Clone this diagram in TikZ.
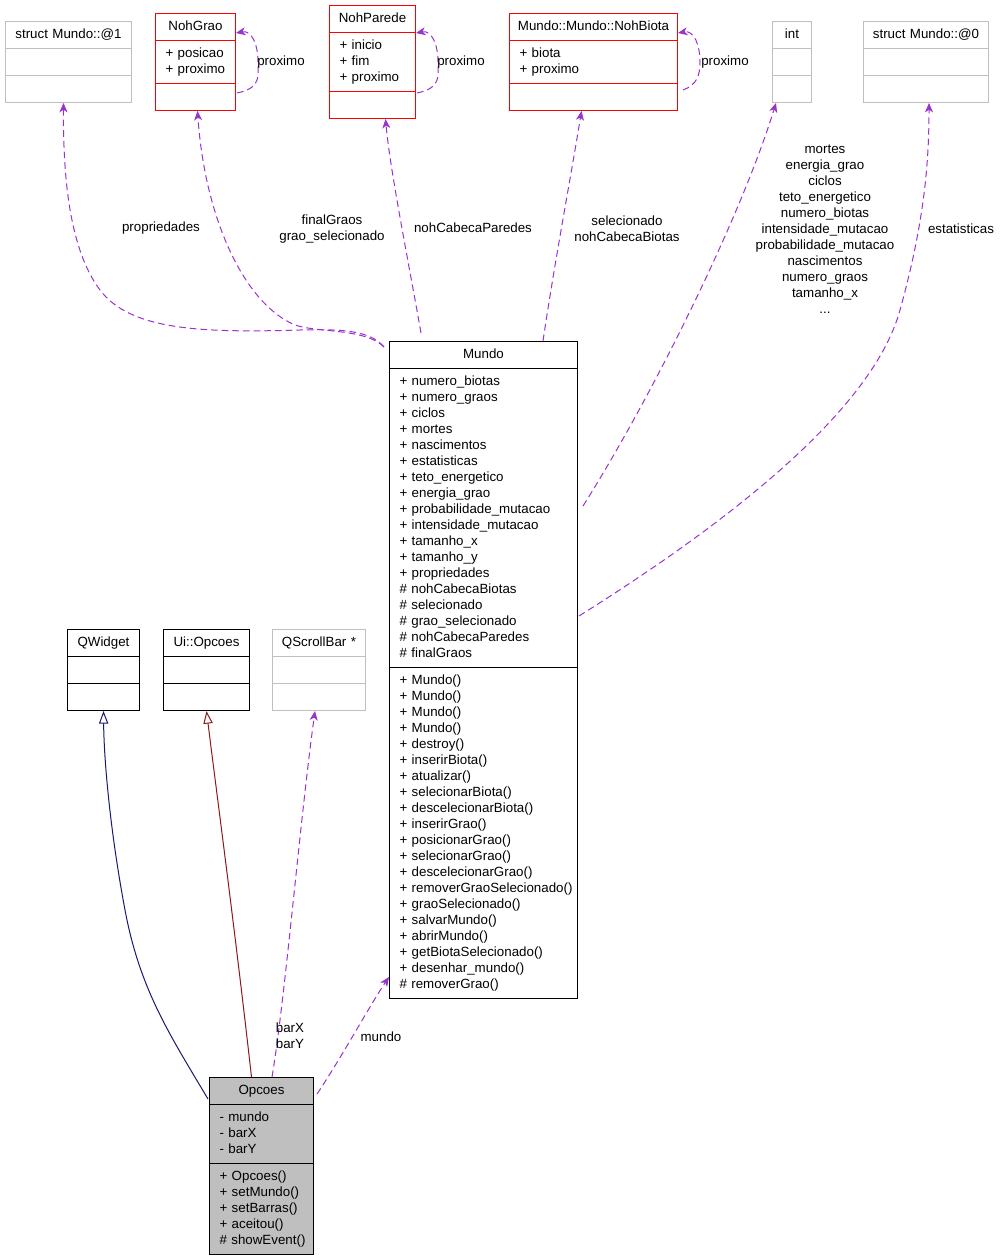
\documentclass[tikz,border=0pt]{standalone}
\usepackage{fontspec}
\setmainfont{Liberation Sans}
\usetikzlibrary{arrows.meta,calc,shapes.multipart}

\definecolor{edgepurple}{HTML}{9A32CD}
\definecolor{inhblue}{HTML}{191970}
\definecolor{inhred}{HTML}{8B1A1A}
\definecolor{boxgray}{HTML}{BFBFBF}
\newcommand{\umlfont}{\fontsize{10pt}{12pt}\selectfont}
\newcommand{\ctitle}[1]{\makebox[\linewidth]{\strut #1}}
% member lists never wrap: lines may run into the right padding
\newcommand{\mlist}{\rightskip=-10pt plus 1fil\hyphenpenalty=10000\relax\strut}

\begin{document}
\begin{tikzpicture}[
  x=0.75pt, y=-0.75pt,
  font=\umlfont,
  cls/.style={rectangle split, rectangle split parts=3, draw=black, line width=0.75pt,
    anchor=north west, inner xsep=7.5pt, inner ysep=3.75pt, align=left,
    /utils/exec={\pgfmathsetlengthmacro\clsw{#1*0.75pt-15pt}}, text width=\clsw},
  ext/.style={cls=#1, draw=boxgray},
  ref/.style={cls=#1, draw=red},
  uses/.style={draw=edgepurple, line width=0.75pt, dash pattern=on 5pt off 3pt,
    -{Stealth[length=7pt,width=6pt,inset=2pt]}},
  inh/.style={line width=0.75pt, -{Triangle[open,length=9.5pt,width=7pt]}},
  lbl/.style={align=center, inner sep=0pt}
]
\useasboundingbox (0,0) rectangle (1001,1259);

% Top row: member types of Mundo.
\node[ext=126] (at1) at (5,21) {\ctitle{struct Mundo::@1}\nodepart{two}\strut\nodepart{three}\strut};
\node[ref=80] (grao) at (155,13) {\ctitle{NohGrao}\nodepart{two}\mlist+ posicao\\+ proximo\strut
  \nodepart{three}\strut};
\node[ref=86] (parede) at (329,5) {\ctitle{NohParede}\nodepart{two}\mlist+ inicio\\+ fim\\+ proximo\strut
  \nodepart{three}\strut};
\node[ref=168] (biota) at (509,13) {\ctitle{Mundo::Mundo::NohBiota}\nodepart{two}\mlist+ biota\\+ proximo\strut
  \nodepart{three}\strut};
\node[ext=39] (int) at (772,21) {\ctitle{int}\nodepart{two}\strut\nodepart{three}\strut};
\node[ext=125] (at0) at (863,21) {\ctitle{struct Mundo::@0}\nodepart{two}\strut\nodepart{three}\strut};

% Mundo.
\node[cls=188] (mundo) at (389,341) {\ctitle{Mundo}\nodepart{two}\mlist
  + numero\_biotas\\+ numero\_graos\\+ ciclos\\+ mortes\\+ nascimentos\\+ estatisticas\\
  + teto\_energetico\\+ energia\_grao\\+ probabilidade\_mutacao\\+ intensidade\_mutacao\\
  + tamanho\_x\\+ tamanho\_y\\+ propriedades\\\# nohCabecaBiotas\\\# selecionado\\
  \# grao\_selecionado\\\# nohCabecaParedes\\\# finalGraos\strut
  \nodepart{three}\mlist
  + Mundo()\\+ Mundo()\\+ Mundo()\\+ Mundo()\\+ destroy()\\+ inserirBiota()\\+ atualizar()\\
  + selecionarBiota()\\+ descelecionarBiota()\\+ inserirGrao()\\+ posicionarGrao()\\
  + selecionarGrao()\\+ descelecionarGrao()\\+ removerGraoSelecionado()\\+ graoSelecionado()\\
  + salvarMundo()\\+ abrirMundo()\\+ getBiotaSelecionado()\\+ desenhar\_mundo()\\\# removerGrao()\strut};

% Bases and members of Opcoes.
\node[cls=72] (qwidget) at (67,629) {\ctitle{QWidget}\nodepart{two}\strut\nodepart{three}\strut};
\node[cls=86] (uiopcoes) at (163,629) {\ctitle{Ui::Opcoes}\nodepart{two}\strut\nodepart{three}\strut};
\node[ext=93] (qscroll) at (272,629) {\ctitle{QScrollBar *}\nodepart{two}\strut\nodepart{three}\strut};
\node[cls=104, fill=boxgray] (opcoes) at (209,1077) {\ctitle{Opcoes}\nodepart{two}\mlist
  - mundo\\- barX\\- barY\strut
  \nodepart{three}\mlist
  + Opcoes()\\+ setMundo()\\+ setBarras()\\+ aceitou()\\\mbox{\# showEvent()}\strut};

% Self references.
\draw[uses] ($(grao.east)+(1,31)$) .. controls (262,88) and (258,75) .. (258,62)
  .. controls (258,45) and (252,30) .. ($(grao.east)+(0,-29)$);
\draw[uses] ($(parede.east)+(1,31)$) .. controls (442,88) and (438,75) .. (438,62)
  .. controls (438,45) and (432,30) .. ($(parede.east)+(0,-29)$);
\draw[uses] ($(biota.east)+(5,28)$) .. controls (697,85) and (700,75) .. (700,62)
  .. controls (700,45) and (694,30) .. ($(biota.east)+(0,-29)$);
\node[lbl] (lgrao) at (281,62) {proximo};
\node[lbl] (lparede) at (461,62) {proximo};
\node[lbl] (lbiota) at (725,62) {proximo};

% Members of Mundo.
\draw[uses] ($(mundo.north west)+(-5,6)$) .. controls (370,330) and (340,329) .. (300,330)
  .. controls (200,333) and (130,330) .. (100,290)
  .. controls (70,250) and (63,180) .. ($(at1.south)+(-5,0)$);
\draw[uses] ($(mundo.north west)+(-5,6)$) .. controls (365,328) and (318,333) .. (295,325)
  .. controls (245,304) and (205,220) .. ($(grao.south)+(2,0)$);
\draw[uses] ($(mundo.north west)+(32,-8)$) .. controls (410,270) and (390,170) .. ($(parede.south)+(13,0)$);
\draw[uses] ($(mundo.north west)+(154,0)$) .. controls (555,260) and (572,170) .. ($(biota.south)+(-12,0)$);
\draw[uses] ($(mundo.north east)+(5,165)$) .. controls (650,400) and (740,220) .. ($(int.south west)+(4,0)$);
\draw[uses] ($(mundo.north east)+(1,275)$) .. controls (700,540) and (870,420) .. (900,310)
  .. controls (925,220) and (929,160) .. ($(at0.south)+(3,0)$);

\node[lbl] (lprop) at (161,228) {propriedades};
\node[lbl] (lgraos) at (332,229) {finalGraos\\grao\_selecionado};
\node[lbl] (lparedes) at (473,228) {nohCabecaParedes};
\node[lbl] (lbiotas) at (627,229) {selecionado\\nohCabecaBiotas};
\node[lbl] (lint) at (825,229) {mortes\\energia\_grao\\ciclos\\teto\_energetico\\numero\_biotas\\
  intensidade\_mutacao\\probabilidade\_mutacao\\nascimentos\\numero\_graos\\tamanho\_x\\...};
\node[lbl] (lestat) at (961,229) {estatisticas};

% Opcoes.
\draw[inh, draw=inhblue] ($(opcoes.north west)+(-1,22)$) .. controls (170,1035) and (140,990) .. (125,910)
  .. controls (110,830) and (104,760) .. (qwidget.south);
\draw[inh, draw=inhred] ($(opcoes.north)+(-10,0)$) .. controls (235,930) and (215,780) .. (uiopcoes.south);
\draw[uses] ($(opcoes.north west)+(63,0)$) .. controls (285,1000) and (300,820) .. ($(qscroll.south)+(-4,0)$);
\draw[uses] ($(opcoes.north east)+(3,17)$) .. controls (340,1060) and (370,1005) .. ($(mundo.south west)+(0,-22)$);

\node[lbl] (lbars) at (290,1036) {barX\\barY};
\node[lbl] (lmundo) at (381,1037) {mundo};

\end{tikzpicture}
\end{document}
